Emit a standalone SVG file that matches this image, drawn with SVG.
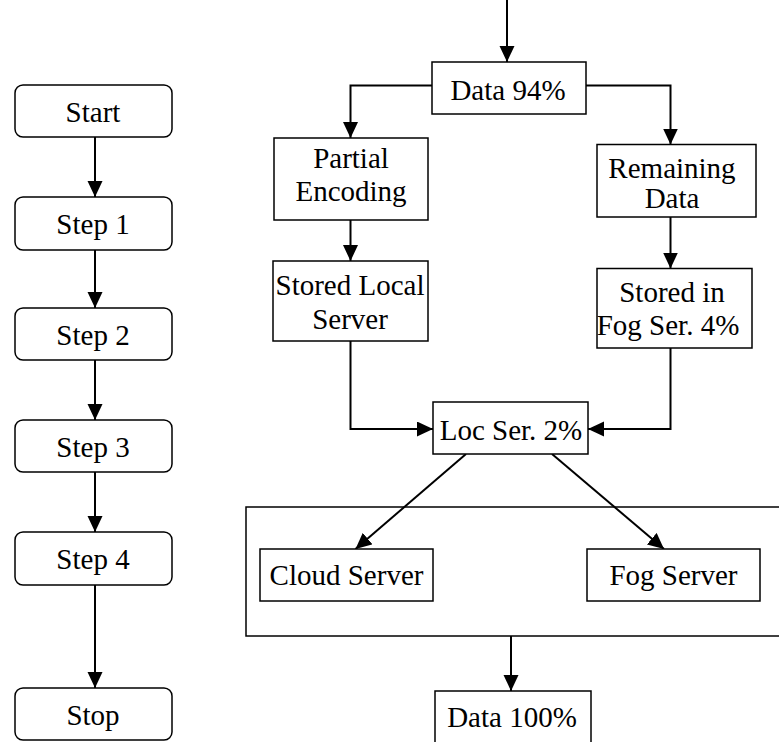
<svg xmlns="http://www.w3.org/2000/svg" width="779" height="742" viewBox="0 0 779 742">
<defs>
<style>
.box{fill:#fff;stroke:#000;stroke-width:1.5}
.grp{fill:none;stroke:#000;stroke-width:1.5}
.con{fill:none;stroke:#000;stroke-width:2;marker-end:url(#ah)}
text{font-family:"Liberation Serif","Times New Roman",serif;font-size:29px;fill:#000;text-anchor:middle}
</style>
<marker id="ah" markerUnits="userSpaceOnUse" markerWidth="17" markerHeight="16" refX="16" refY="7.5" orient="auto" viewBox="0 0 17 16">
<path d="M0,0 L16,7.5 L0,15 z" fill="#000"/>
</marker>
</defs>
<rect class="grp" x="246" y="507" width="600" height="129"/>
<g id="connectors">
<path class="con" d="M95,137 V197"/>
<path class="con" d="M95,250 V308"/>
<path class="con" d="M95,360 V420"/>
<path class="con" d="M95,472 V532"/>
<path class="con" d="M95,585 V688"/>
<path class="con" d="M507,0 V62"/>
<path class="con" d="M432,85.5 H350.5 V138"/>
<path class="con" d="M586,85.5 H670.5 V144.5"/>
<path class="con" d="M350.5,220 V261"/>
<path class="con" d="M670.5,217 V268.5"/>
<path class="con" d="M350.5,341 V429 H433"/>
<path class="con" d="M670.5,348 V429 H588"/>
<path class="con" d="M466,454 L355.5,549"/>
<path class="con" d="M552,454 L664,549"/>
<path class="con" d="M511,636 V691"/>
</g>
<g id="start"><rect class="box" x="15" y="85" width="157" height="52" rx="8"/><text x="93" y="122">Start</text></g>
<g id="step1"><rect class="box" x="15" y="197" width="157" height="53" rx="8"/><text x="93" y="234">Step 1</text></g>
<g id="step2"><rect class="box" x="15" y="308" width="157" height="52" rx="8"/><text x="93" y="345">Step 2</text></g>
<g id="step3"><rect class="box" x="15" y="420" width="157" height="52" rx="8"/><text x="93" y="457">Step 3</text></g>
<g id="step4"><rect class="box" x="15" y="532" width="157" height="53" rx="8"/><text x="93" y="569">Step 4</text></g>
<g id="stop"><rect class="box" x="15" y="688" width="157" height="52" rx="8"/><text x="93" y="725">Stop</text></g>
<g id="data94"><rect class="box" x="432" y="62" width="154" height="52"/><text x="508" y="100">Data 94%</text></g>
<g id="partial"><rect class="box" x="274" y="138" width="154" height="82"/><text x="351" y="168">Partial</text><text x="351" y="201">Encoding</text></g>
<g id="remaining"><rect class="box" x="597" y="144.5" width="159" height="72.5"/><text x="672" y="178">Remaining</text><text x="672" y="208">Data</text></g>
<g id="storedlocal"><rect class="box" x="273" y="261" width="155" height="80"/><text x="350" y="295">Stored Local</text><text x="350" y="329">Server</text></g>
<g id="storedfog"><rect class="box" x="597" y="268.5" width="155" height="79.5"/><text x="672" y="302">Stored in</text><text x="668" y="335">Fog Ser. 4%</text></g>
<g id="locser"><rect class="box" x="433" y="402" width="155" height="52"/><text x="511" y="440">Loc Ser. 2%</text></g>
<g id="cloud"><rect class="box" x="260" y="549" width="173" height="52"/><text x="346.5" y="585">Cloud Server</text></g>
<g id="fog"><rect class="box" x="587" y="549" width="173" height="52"/><text x="673.5" y="585">Fog Server</text></g>
<g id="data100"><rect class="box" x="435" y="691" width="156" height="60"/><text x="512" y="727">Data 100%</text></g>
</svg>
